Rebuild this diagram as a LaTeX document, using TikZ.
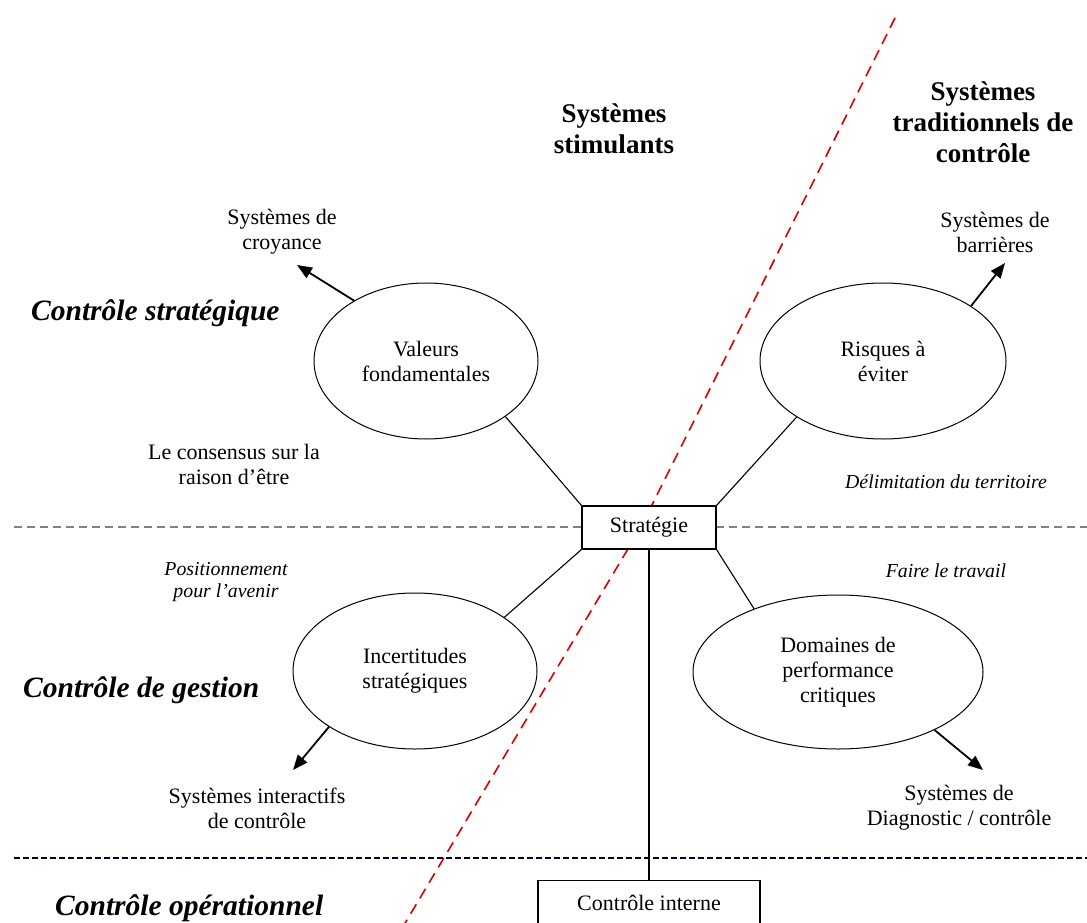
\documentclass[tikz,border=0pt]{standalone}
\usepackage{fontspec}
\setmainfont{Liberation Serif}
\usetikzlibrary{shapes.geometric,arrows.meta}
\tikzset{
  body/.style={font=\fontsize{22}{25}\selectfont, align=center, inner sep=0pt},
  smallit/.style={font=\fontsize{19.8}{22}\selectfont\itshape, align=center, inner sep=0pt},
  title/.style={font=\fontsize{27}{31}\selectfont\bfseries, align=center, inner sep=0pt},
  section/.style={font=\fontsize{29.5}{32}\selectfont\bfseries\itshape, anchor=west, inner sep=0pt},
  oval/.style={ellipse, draw, line width=1pt, body, inner sep=0pt},
  boxnode/.style={rectangle, draw, line width=1.1pt, fill=white, body},
  link/.style={line width=1.1pt},
  outarrow/.style={line width=1.8pt, -{Triangle[length=15pt,width=12pt]}},
  sepline/.style={gray, line width=1.2pt, dash pattern=on 8pt off 5pt},
  sepstrong/.style={black!75!blue!60!black, line width=2.6pt, dash pattern=on 6pt off 3pt},
  redline/.style={red!85!black, line width=1.6pt, dash pattern=on 11pt off 7pt}
}
\begin{document}
\begin{tikzpicture}[x=1pt,y=-1pt]
\useasboundingbox (0,0) rectangle (1087,923);
% separator lines
\coordinate (hlA) at (14,527);
\coordinate (hlB) at (1087,527);
\coordinate (hlC) at (14,858);
\coordinate (hlD) at (1087,858);
\draw[sepline] (hlA) -- (hlB);
\draw[sepstrong] (hlC) -- (hlD);
% red separator
\coordinate (redTop) at (895,18);
\coordinate (redMid) at (641,527);
\coordinate (redBot) at (395,940);
\draw[redline] (redTop) -- (redMid) -- (redBot);
% main nodes
\node[boxnode, minimum width=134pt, minimum height=43pt] (strat) at (649,527.5) {Stratégie};
\node[boxnode, anchor=north, minimum width=222pt, inner ysep=0pt, text height=30pt, text depth=30pt] (interne) at (649,880) {Contrôle interne};
\node[oval, minimum width=224pt, minimum height=156pt] (val) at (426,361) {Valeurs\\fondamentales};
\node[oval, minimum width=246pt, minimum height=156pt] (ris) at (883,361) {Risques à\\éviter};
\node[oval, minimum width=244pt, minimum height=156pt] (inc) at (415,671) {Incertitudes\\stratégiques};
\node[oval, minimum width=290pt, minimum height=154pt] (dom) at (838,672) {Domaines de\\performance\\critiques};
% connectors
\draw[link] (val.-35) -- (strat.north west);
\draw[link] (ris.-147) -- (strat.north east);
\draw[link] (inc.31) -- (strat.south west);
\draw[link] (dom.143) -- (strat.south east);
\draw[link] (strat.south) -- (interne.north);
% outgoing arrows
\coordinate (croyTip) at (297,265);
\coordinate (barrTip) at (1005,263);
\coordinate (interTip) at (293,770);
\coordinate (diagTip) at (983,770);
\draw[outarrow] (val.140) -- (croyTip);
\draw[outarrow] (ris.32) -- (barrTip);
\draw[outarrow] (inc.-147) -- (interTip);
\draw[outarrow] (dom.-31) -- (diagTip);
% text labels
\node[title] (stim) at (614,129) {Systèmes\\stimulants};
\node[title] (trad) at (983,122) {Systèmes\\traditionnels de\\contrôle};
\node[body] (croy) at (282,232) {Systèmes de\\croyance};
\node[body] (barr) at (995,232) {Systèmes de\\barrières};
\node[body] (inter) at (257,808) {Systèmes interactifs\\de contrôle};
\node[body] (diag) at (959,808) {Systèmes de\\Diagnostic / contrôle};
\node[body] (cons) at (234,464) {Le consensus sur la\\raison d’être};
\node[smallit] (delim) at (946,482) {Délimitation du territoire};
\node[smallit] (posit) at (226,582) {Positionnement\\pour l’avenir};
\node[smallit] (faire) at (946,571) {Faire le travail};
\node[section] (cstrat) at (31,313) {Contrôle stratégique};
\node[section] (cgest) at (23,690) {Contrôle de gestion};
\node[section] (cop) at (55,908) {Contrôle opérationnel};
\end{tikzpicture}
\end{document}
